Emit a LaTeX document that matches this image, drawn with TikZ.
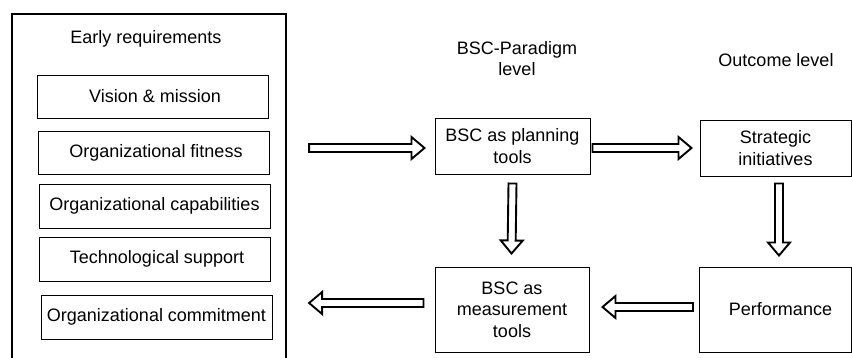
\documentclass[tikz,border=0pt]{standalone}
\usepackage{fontspec}
\setmainfont{Liberation Sans}
\usetikzlibrary{calc}

\tikzset{
  box/.style={draw, line width=1pt, inner sep=0pt, align=center,
              font=\fontsize{18}{21.5}\selectfont},
  label/.style={inner sep=0pt, align=center, font=\fontsize{18}{21.5}\selectfont},
  blockarrow/.style={draw, fill=white, line width=1.9pt, line join=miter}
}

% hollow block arrow from #1 to #2
\newcommand\blockarrow[2]{%
  \coordinate (ba-s) at (#1);
  \coordinate (ba-e) at (#2);
  \coordinate (ba-h) at ($(ba-e)!13pt!(ba-s)$);
  \draw[blockarrow]
    ($(ba-s)!4pt!90:(ba-e)$) -- ($(ba-h)!4pt!-90:(ba-s)$)
    -- ($(ba-h)!11pt!-90:(ba-s)$) -- (ba-e)
    -- ($(ba-h)!11pt!90:(ba-s)$) -- ($(ba-h)!4pt!90:(ba-s)$)
    -- ($(ba-s)!4pt!-90:(ba-e)$) -- cycle;}

\begin{document}
\begin{tikzpicture}[x=1pt, y=-1pt]
  \useasboundingbox (0,0) rectangle (852,357);
  \clip (0,0) rectangle (852,357);

  % frame of the early requirements
  \node[draw, line width=2.2pt, inner sep=0pt, minimum width=274pt,
        minimum height=352pt] (big) at (149,190) {};
  \node[label] (early) at (146,39) {Early requirements};

  \node[box, minimum width=231pt, minimum height=43pt] (vis)  at (152.5,96.5) {\hspace*{5pt}Vision \& mission};
  \node[box, minimum width=231pt, minimum height=43pt] (fit)  at (153.5,152.5) {\hspace*{5pt}Organizational fitness};
  \node[box, minimum width=231pt, minimum height=44pt] (cap)  at (154.5,206) {Organizational capabilities};
  \node[box, minimum width=231pt, minimum height=44pt] (tech) at (154.5,259) {\hspace*{5pt}Technological support};
  \node[box, minimum width=231pt, minimum height=44pt] (com)  at (156.5,317) {Organizational commitment};

  % column headings
  \node[label] (bscl) at (517,58.5) {BSC-Paradigm\\level};
  \node[label] (outl) at (776,60) {Outcome level};

  % paradigm and outcome boxes
  \node[box, minimum width=155pt, minimum height=56pt] (plan)  at (512.5,146) {BSC as planning\\tools};
  \node[box, minimum width=151pt, minimum height=56pt] (strat) at (775.5,148) {Strategic\\initiatives};
  \node[box, minimum width=154pt, minimum height=85pt] (meas)  at (512,309.5) {BSC as\\measurement\\tools};
  \node[box, minimum width=152pt, minimum height=85pt] (perf)  at (775.5,309.5) {\hspace*{10pt}Performance};

  % arrow end points
  \coordinate (a1e) at ([xshift=-10pt,yshift=-2pt]plan.west);
  \coordinate (a1s) at ([xshift=22pt]big.east |- a1e);
  \coordinate (a2s) at ([xshift=2pt,yshift=-2pt]plan.east);
  \coordinate (a2e) at ([xshift=-8pt]strat.west |- a2s);
  \coordinate (a3s) at ([yshift=-9pt]plan.south);
  \coordinate (a3e) at ([xshift=-0.5pt,yshift=13pt]meas.north);
  \coordinate (a4s) at ([xshift=3.5pt,yshift=-7pt]strat.south);
  \coordinate (a4e) at ([xshift=3.5pt,yshift=11pt]perf.north);
  \coordinate (a5s) at ([xshift=-6pt,yshift=2.5pt]perf.west);
  \coordinate (a5e) at ([xshift=13pt]meas.east |- a5s);
  \coordinate (a6s) at ([xshift=-11pt,yshift=6.5pt]meas.west);
  \coordinate (a6e) at ([xshift=22pt]big.east |- a6s);

  \blockarrow{a1s}{a1e}
  \blockarrow{a2s}{a2e}
  \blockarrow{a3s}{a3e}
  \blockarrow{a4s}{a4e}
  \blockarrow{a5s}{a5e}
  \blockarrow{a6s}{a6e}
\end{tikzpicture}
\end{document}
